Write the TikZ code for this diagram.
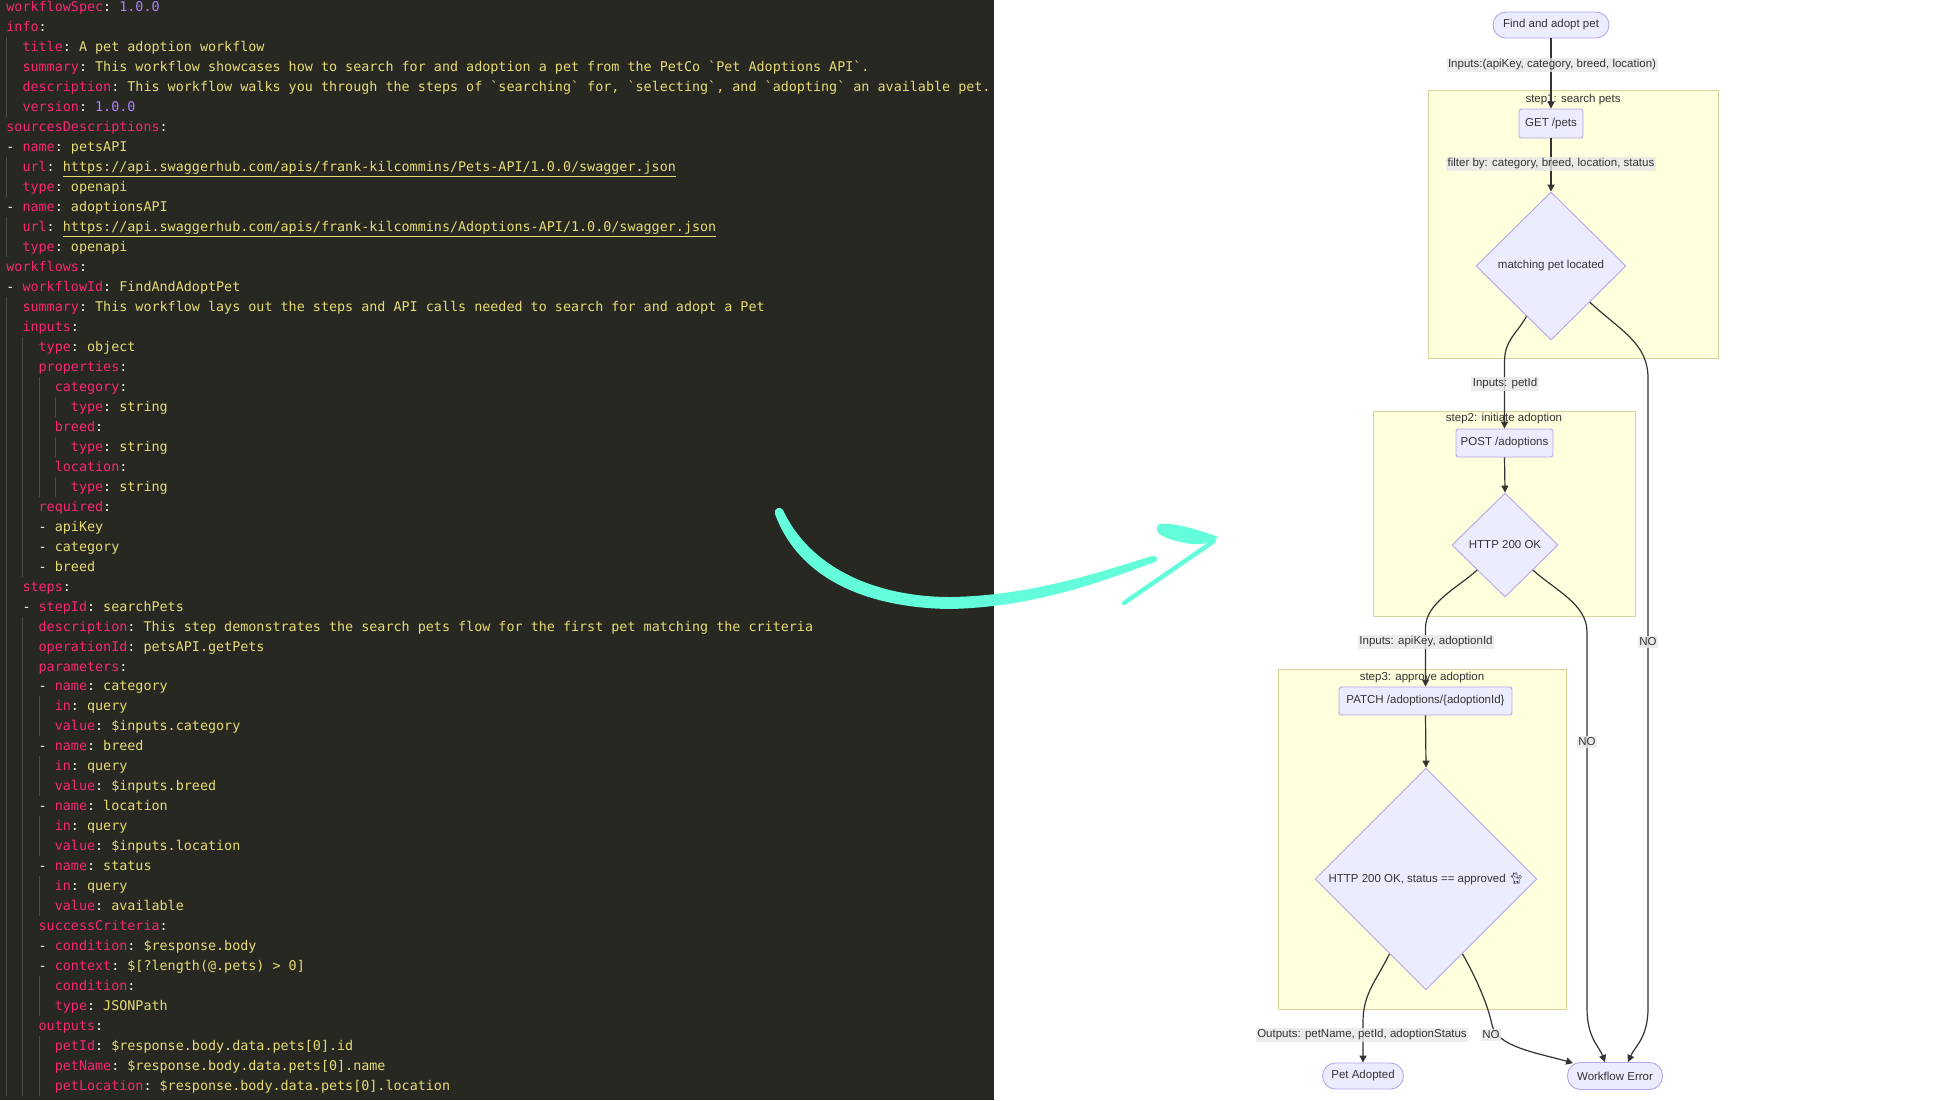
\documentclass[tikz,border=0pt]{standalone}
\usepackage{fontspec}
\setmainfont{Liberation Sans}
\setmonofont{DejaVu Sans Mono}
\newfontfamily\emojifont{Noto Emoji}
\usetikzlibrary{shapes.geometric,arrows.meta,calc}

\definecolor{codebg}{HTML}{272822}
\definecolor{ckey}{HTML}{F92672}
\definecolor{cval}{HTML}{E6DB74}
\definecolor{cnum}{HTML}{AE81FF}
\definecolor{cpun}{HTML}{F8F8F2}
\definecolor{cguide}{HTML}{4A4B44}
\definecolor{nodefill}{HTML}{ECECFF}
\definecolor{nodeline}{HTML}{B4A6E8}
\definecolor{clfill}{HTML}{FFFFDE}
\definecolor{clline}{HTML}{D4D49A}
\definecolor{edgec}{HTML}{333333}
\definecolor{lblfill}{HTML}{E8E8E8}
\definecolor{swoosh}{RGB}{100,253,220}

\newcommand{\yk}[1]{\textcolor{ckey}{#1}}
\newcommand{\yv}[1]{\textcolor{cval}{#1}}
\newcommand{\yn}[1]{\textcolor{cnum}{#1}}
\newcommand{\yp}[1]{\textcolor{cpun}{#1}}
\newcommand{\codefnt}{\ttfamily\fontsize{13.4}{16}\selectfont}
\newcommand{\fcfont}{\fontsize{11.5}{13}\selectfont}
\newcommand{\codeline}[3]{\node[codetxt] (cl#1) at ({6.2+#2*8.067},{12+(#1-1)*19.97}) {#3};}
\newcommand{\iguide}[3]{\draw[guide] ({6.7+#1*8.067},{(#2-1)*19.97-2.5}) -- ({6.7+#1*8.067},{(#3)*19.97-2.5});}

\tikzset{
  codetxt/.style={anchor=base west, inner sep=0pt, font=\codefnt},
  guide/.style={draw=cguide, line width=0.9pt},
  fcnode/.style={draw=nodeline, fill=nodefill, line width=0.9pt, text=edgec, font=\fcfont, inner sep=0pt},
  procbox/.style={fcnode, rectangle, rounded corners=2.5pt},
  pill/.style={fcnode, rectangle, rounded corners=13pt},
  decision/.style={fcnode, diamond, aspect=1},
  cluster/.style={draw=clline, fill=clfill, line width=0.9pt, inner sep=0pt},
  cltitle/.style={text=edgec, font=\fcfont, inner sep=0pt},
  edge/.style={draw=edgec, line width=1.2pt, -{Triangle[length=7pt,width=7pt]}},
  elabel/.style={fill=lblfill, fill opacity=0.8, text opacity=1, text=edgec, font=\fcfont, inner sep=1.5pt},
}

\begin{document}
\begin{tikzpicture}[x=1pt,y=-1pt]
\useasboundingbox (0,0) rectangle (1958,1100);
\fill[white] (0,0) rectangle (1958,1100);
\fill[codebg] (0,0) rectangle (994,1100);

% indent guides
\iguide{0}{3}{6}
\iguide{0}{9}{10}
\iguide{0}{12}{13}
\iguide{0}{16}{55}
\iguide{2}{18}{29}
\iguide{2}{32}{55}
\iguide{4}{20}{25}
\iguide{4}{36}{37}
\iguide{4}{39}{40}
\iguide{4}{42}{43}
\iguide{4}{45}{46}
\iguide{4}{50}{51}
\iguide{4}{53}{55}
\iguide{6}{21}{21}
\iguide{6}{23}{23}
\iguide{6}{25}{25}

% code
\codeline{1}{0}{\yk{workflowSpec}\yp{: }\yn{1.0.0}}
\codeline{2}{0}{\yk{info}\yp{:}}
\codeline{3}{2}{\yk{title}\yp{: }\yv{A pet adoption workflow}}
\codeline{4}{2}{\yk{summary}\yp{: }\yv{This workflow showcases how to search for and adoption a pet from the PetCo `Pet Adoptions API`.}}
\codeline{5}{2}{\yk{description}\yp{: }\yv{This workflow walks you through the steps of `searching` for, `selecting`, and `adopting` an available pet.}}
\codeline{6}{2}{\yk{version}\yp{: }\yn{1.0.0}}
\codeline{7}{0}{\yk{sourcesDescriptions}\yp{:}}
\codeline{8}{0}{\yp{- }\yk{name}\yp{: }\yv{petsAPI}}
\codeline{9}{2}{\yk{url}\yp{: }\yv{\underline{https://api.swaggerhub.com/apis/frank-kilcommins/Pets-API/1.0.0/swagger.json}}}
\codeline{10}{2}{\yk{type}\yp{: }\yv{openapi}}
\codeline{11}{0}{\yp{- }\yk{name}\yp{: }\yv{adoptionsAPI}}
\codeline{12}{2}{\yk{url}\yp{: }\yv{\underline{https://api.swaggerhub.com/apis/frank-kilcommins/Adoptions-API/1.0.0/swagger.json}}}
\codeline{13}{2}{\yk{type}\yp{: }\yv{openapi}}
\codeline{14}{0}{\yk{workflows}\yp{:}}
\codeline{15}{0}{\yp{- }\yk{workflowId}\yp{: }\yv{FindAndAdoptPet}}
\codeline{16}{2}{\yk{summary}\yp{: }\yv{This workflow lays out the steps and API calls needed to search for and adopt a Pet}}
\codeline{17}{2}{\yk{inputs}\yp{:}}
\codeline{18}{4}{\yk{type}\yp{: }\yv{object}}
\codeline{19}{4}{\yk{properties}\yp{:}}
\codeline{20}{6}{\yk{category}\yp{:}}
\codeline{21}{8}{\yk{type}\yp{: }\yv{string}}
\codeline{22}{6}{\yk{breed}\yp{:}}
\codeline{23}{8}{\yk{type}\yp{: }\yv{string}}
\codeline{24}{6}{\yk{location}\yp{:}}
\codeline{25}{8}{\yk{type}\yp{: }\yv{string}}
\codeline{26}{4}{\yk{required}\yp{:}}
\codeline{27}{4}{\yp{- }\yv{apiKey}}
\codeline{28}{4}{\yp{- }\yv{category}}
\codeline{29}{4}{\yp{- }\yv{breed}}
\codeline{30}{2}{\yk{steps}\yp{:}}
\codeline{31}{2}{\yp{- }\yk{stepId}\yp{: }\yv{searchPets}}
\codeline{32}{4}{\yk{description}\yp{: }\yv{This step demonstrates the search pets flow for the first pet matching the criteria}}
\codeline{33}{4}{\yk{operationId}\yp{: }\yv{petsAPI.getPets}}
\codeline{34}{4}{\yk{parameters}\yp{:}}
\codeline{35}{4}{\yp{- }\yk{name}\yp{: }\yv{category}}
\codeline{36}{6}{\yk{in}\yp{: }\yv{query}}
\codeline{37}{6}{\yk{value}\yp{: }\yv{\$inputs.category}}
\codeline{38}{4}{\yp{- }\yk{name}\yp{: }\yv{breed}}
\codeline{39}{6}{\yk{in}\yp{: }\yv{query}}
\codeline{40}{6}{\yk{value}\yp{: }\yv{\$inputs.breed}}
\codeline{41}{4}{\yp{- }\yk{name}\yp{: }\yv{location}}
\codeline{42}{6}{\yk{in}\yp{: }\yv{query}}
\codeline{43}{6}{\yk{value}\yp{: }\yv{\$inputs.location}}
\codeline{44}{4}{\yp{- }\yk{name}\yp{: }\yv{status}}
\codeline{45}{6}{\yk{in}\yp{: }\yv{query}}
\codeline{46}{6}{\yk{value}\yp{: }\yv{available}}
\codeline{47}{4}{\yk{successCriteria}\yp{:}}
\codeline{48}{4}{\yp{- }\yk{condition}\yp{: }\yv{\$response.body}}
\codeline{49}{4}{\yp{- }\yk{context}\yp{: }\yv{\$[?length(@.pets) > 0]}}
\codeline{50}{6}{\yk{condition}\yp{:}}
\codeline{51}{6}{\yk{type}\yp{: }\yv{JSONPath}}
\codeline{52}{4}{\yk{outputs}\yp{:}}
\codeline{53}{6}{\yk{petId}\yp{: }\yv{\$response.body.data.pets[0].id}}
\codeline{54}{6}{\yk{petName}\yp{: }\yv{\$response.body.data.pets[0].name}}
\codeline{55}{6}{\yk{petLocation}\yp{: }\yv{\$response.body.data.pets[0].location}}

% clusters
\node[cluster, minimum width=290pt, minimum height=268pt] (c1) at (1573,224) {};
\node[cluster, minimum width=262pt, minimum height=205pt] (c2) at (1504,513.5) {};
\node[cluster, minimum width=288pt, minimum height=340pt] (c3) at (1422,839) {};
\node[cltitle] (t1) at (1573,100) {step1: search pets};
\node[cltitle] (t2) at (1504,419) {step2: initiate adoption};
\node[cltitle] (t3) at (1422,678) {step3: approve adoption};

% nodes
\node[pill, minimum width=116pt, minimum height=26pt] (start) at (1551,25) {Find and adopt pet};
\node[procbox, minimum width=64pt, minimum height=29pt] (get) at (1551,123.5) {GET /pets};
\node[decision, minimum width=150pt, minimum height=148pt] (d1) at (1551,266) {matching pet located};
\node[procbox, minimum width=97pt, minimum height=28pt] (post) at (1504.5,443) {POST /adoptions};
\node[decision, minimum width=106pt, minimum height=104pt] (d2) at (1505,545) {HTTP 200 OK};
\node[procbox, minimum width=173pt, minimum height=28pt] (patch) at (1425.5,701) {PATCH /adoptions/\{adoptionId\}};
\node[decision, minimum width=222pt, minimum height=222pt] (d3) at (1426,879) {HTTP 200 OK, status == approved {\emojifont 🐈}};
\node[pill, minimum width=81pt, minimum height=26pt] (adopted) at (1363,1076) {Pet Adopted};
\node[pill, minimum width=95pt, minimum height=27pt] (err) at (1615,1076) {Workflow Error};

% edges
\coordinate (a1) at (1504.5,362);
\coordinate (a2) at (1648,378);
\coordinate (a3) at (1648,1008);
\coordinate (b1) at (1425.5,628);
\coordinate (b2) at (1587,632);
\coordinate (b3) at (1587,1008);
\coordinate (p1) at (1363,1022);
\coordinate (q1) at (1492,1025);

\draw[edge] (start.south) -- (get.north);
\draw[edge] (get.south) -- (d1.north);
\draw[edge] (d1.-116) .. controls +(-10,18) and +(0,-22) .. (a1) -- (post.north);
\draw[edge] (d1.-43) .. controls +(30,28) and +(0,-35) .. (a2) -- (a3) .. controls +(0,30) and +(7,-16) .. ($(err.north)+(13,0)$);
\draw[edge] (post.south) -- (d2.north);
\draw[edge] (d2.-138) .. controls +(-20,18) and +(0,-25) .. (b1) -- (patch.north);
\draw[edge] (d2.-42) .. controls +(22,20) and +(0,-28) .. (b2) -- (b3) .. controls +(0,30) and +(-6,-16) .. ($(err.north)+(-10,0)$);
\draw[edge] (patch.south) -- (d3.north);
\draw[edge] (d3.-116) .. controls +(-14,28) and +(0,-28) .. (p1) -- (adopted.north);
\draw[edge] (d3.-64) .. controls +(14,25) and +(-4,-20) .. (q1) .. controls +(5,22) and +(-35,-10) .. ($(err.north west)+(6,1)$);

% edge labels
\node[elabel] (l1) at (1552,65) {Inputs:(apiKey, category, breed, location)};
\node[elabel] (l2) at (1551,164) {filter by: category, breed, location, status};
\node[elabel] (l3) at (1505,384) {Inputs: petId};
\node[elabel] (l4) at (1648,642) {NO};
\node[elabel] (l5) at (1426,642) {Inputs: apiKey, adoptionId};
\node[elabel] (l6) at (1587,742) {NO};
\node[elabel] (l7) at (1362,1035) {Outputs: petName, petId, adoptionStatus};
\node[elabel] (l8) at (1491,1035) {NO};

% teal swoosh arrow
\fill[swoosh] (775,514) .. controls (800,582) and (872,608) .. (950,609)
  .. controls (1040,607) and (1110,578) .. (1155,562)
  .. controls (1159,560) and (1157,555) .. (1152,556)
  .. controls (1100,572) and (1030,596) .. (950,597)
  .. controls (882,597) and (812,572) .. (783,510)
  .. controls (781,506) and (773,508) .. (775,514) -- cycle;
\fill[swoosh] (1160,524) .. controls (1175,522) and (1205,532) .. (1218,537)
  .. controls (1212,543) and (1200,546) .. (1185,543)
  .. controls (1170,540) and (1155,535) .. (1157,528)
  .. controls (1157,525) and (1158,524) .. (1160,524) -- cycle;
\draw[swoosh, line width=4.5pt, line cap=round] (1214,541) -- (1124,603);
\end{tikzpicture}
\end{document}
